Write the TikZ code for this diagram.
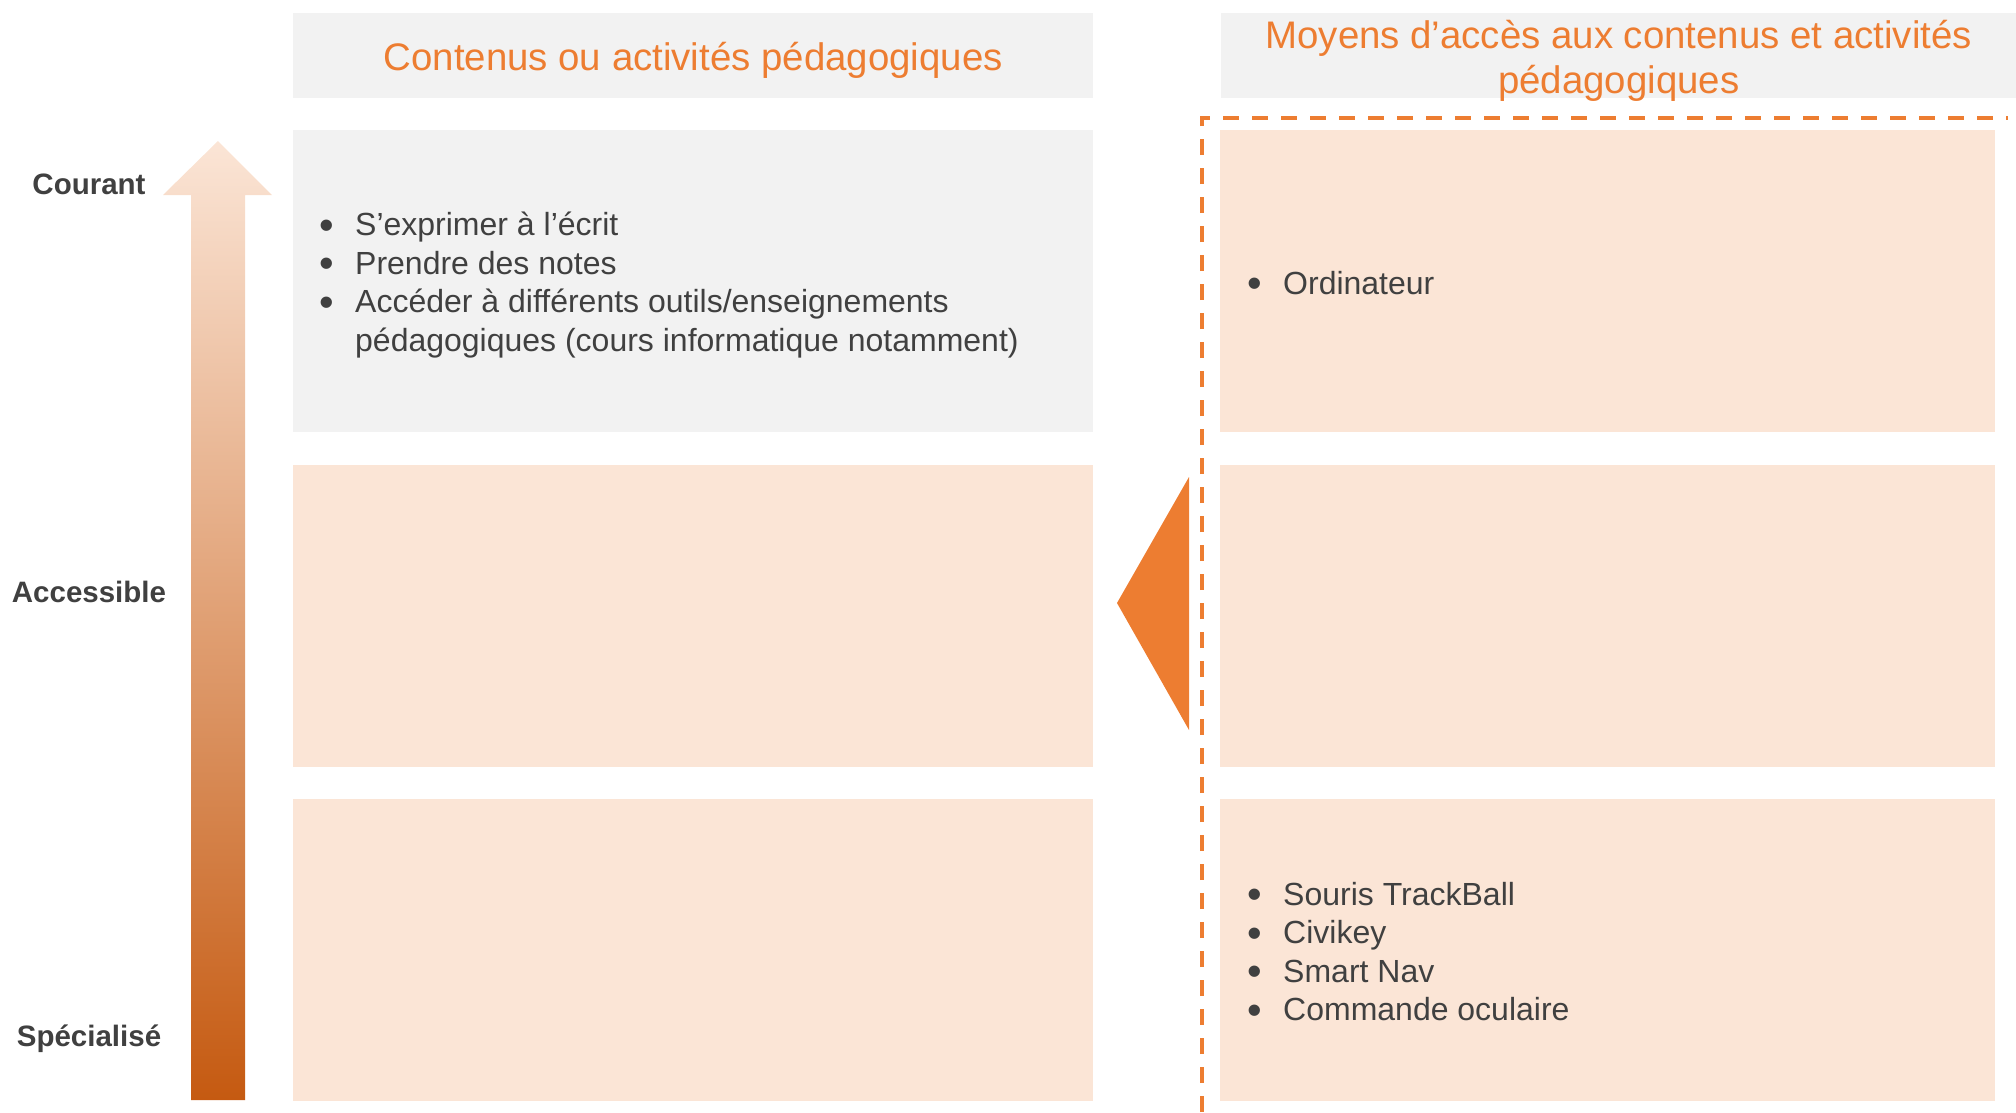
\documentclass[tikz,border=0pt]{standalone}
\usepackage{fontspec}
\setmainfont{Liberation Sans}
\usepackage{xcolor}
\usetikzlibrary{positioning}
\definecolor{Gris1}{HTML}{F2F2F2}
\definecolor{Peche1}{HTML}{FBE5D6}
\definecolor{Orange2}{HTML}{ED7D31}
\definecolor{Rouille1}{HTML}{C55A11}
\definecolor{Milieu1}{HTML}{E5B8A0}
\definecolor{Texte1}{HTML}{404040}
\newcommand{\puce}{\llap{\raisebox{-3.4pt}{\scalebox{1.3}{\textbullet}}\hspace{21pt}}}

\begin{document}
\begin{tikzpicture}[x=1pt,y=-1pt,
    boite/.style={inner sep=0pt, minimum width=#1, minimum height=302pt, fill=Peche1},
    entete/.style={inner sep=0pt, minimum width=#1, minimum height=85pt, fill=Gris1},
    titre/.style={inner sep=0pt, text=Orange2, align=center, font=\fontsize{38.4}{45}\selectfont},
    liste/.style={inner sep=0pt, anchor=west, align=left, text=Texte1, font=\fontsize{32}{38.5}\selectfont},
    niveau/.style={inner sep=0pt, text=Texte1, font=\bfseries\fontsize{29.5}{34}\selectfont}]
  \useasboundingbox (0,0) rectangle (2016,1112);
  % en-tetes
  \node[entete=800pt, anchor=north west] (entete1) at (293,13) {};
  \node[entete=795pt, anchor=north west] (entete2) at (1221,13) {};
  \node[titre] (titre1) at ([yshift=-5pt]entete1.center) {Contenus ou activités pédagogiques};
  \node[titre] (titre2) at ([yshift=-5pt]entete2.center) {Moyens d’accès aux contenus et activités\\pédagogiques};
  % colonne de gauche
  \node[boite=800pt, fill=Gris1, anchor=north west] (contenu1) at (293,130) {};
  \node[boite=800pt, below=32pt of contenu1] (contenu2) {};
  \node[boite=800pt, below=32pt of contenu2] (contenu3) {};
  % colonne de droite
  \node[boite=775pt, anchor=north west] (moyen1) at (1220,130) {};
  \node[boite=775pt, below=32pt of moyen1] (moyen2) {};
  \node[boite=775pt, below=32pt of moyen2] (moyen3) {};
  % listes
  \node[liste] (liste1) at ([xshift=62pt,yshift=-4pt]contenu1.west) {\puce S’exprimer à l’écrit\\
    \puce Prendre des notes\\
    \puce Accéder à différents outils/enseignements\\
    pédagogiques (cours informatique notamment)};
  \node[liste] (liste2) at ([xshift=63pt,yshift=-3pt]moyen1.west) {\puce Ordinateur};
  \node[liste] (liste3) at ([xshift=63pt,yshift=-3pt]moyen3.west) {\puce Souris TrackBall\\
    \puce Civikey\\
    \puce Smart Nav\\
    \puce Commande oculaire};
  % fleche de gauche
  \shade[top color=Peche1, middle color=Milieu1, bottom color=Rouille1]
    (191,1100) -- (191,195) -- (163,195) -- (218,141) -- (272,195) -- (245,195) -- (245,1100) -- cycle;
  \node[niveau] (courant) at (89,184) {Courant};
  \node[niveau] (accessible) at (89,592) {Accessible};
  \node[niveau] (specialise) at (89,1039) {Spécialisé};
  % cadre pointille et triangle
  \coordinate (coin) at (1202,118);
  \draw[Orange2, line width=4.5pt, dash pattern=on 16pt off 13pt] (1202,1112) -- (coin) -- (2008,118);
  \fill[Orange2] (1189,477) -- (1189,730) -- (1117,603) -- cycle;
\end{tikzpicture}
\end{document}
